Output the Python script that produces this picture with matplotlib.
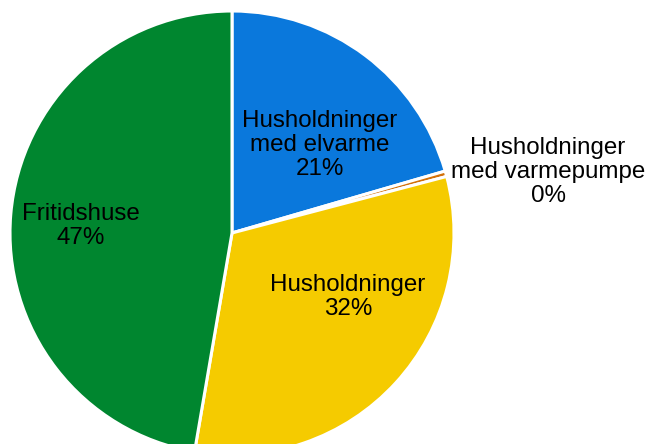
import matplotlib
matplotlib.use("Agg")
import matplotlib.pyplot as plt

labels = ["Husholdninger\nmed elvarme", "Husholdninger\nmed varmepumpe", "Husholdninger", "Fritidshuse"]
values = [20.5, 0.4, 31.8, 47.3]
pct_text = ["21%", "0%", "32%", "47%"]
colors = ["#0A78DC", "#D2700A", "#F5CB00", "#00862F"]

plt.rcParams['font.family'] = ['Liberation Sans', 'DejaVu Sans']

fig = plt.figure(figsize=(6.48, 4.44), dpi=100)
W, H = 648, 444
cx, cy, r = 232, 233, 222
ax = fig.add_axes([(cx - r) / W, (H - cy - r) / H, 2 * r / W, 2 * r / H])
ax.pie(values, colors=colors, startangle=90, counterclock=False, radius=1,
       wedgeprops=dict(edgecolor="white", linewidth=2.2), frame=False)
ax.set_xlim(-1, 1)
ax.set_ylim(-1, 1)
ax.set_aspect("equal")
ax.axis("off")

label_pos = [(320, 145), (548, 172), (348, 297), (81, 226)]
for lab, pct, (px, py) in zip(labels, pct_text, label_pos):
    ax.text((px - cx) / r, (cy - py) / r, f"{lab}\n{pct}", ha="center", va="center",
            fontsize=17.4, linespacing=1.13, color="black", clip_on=False)

fig.savefig("out.png", dpi=100)
